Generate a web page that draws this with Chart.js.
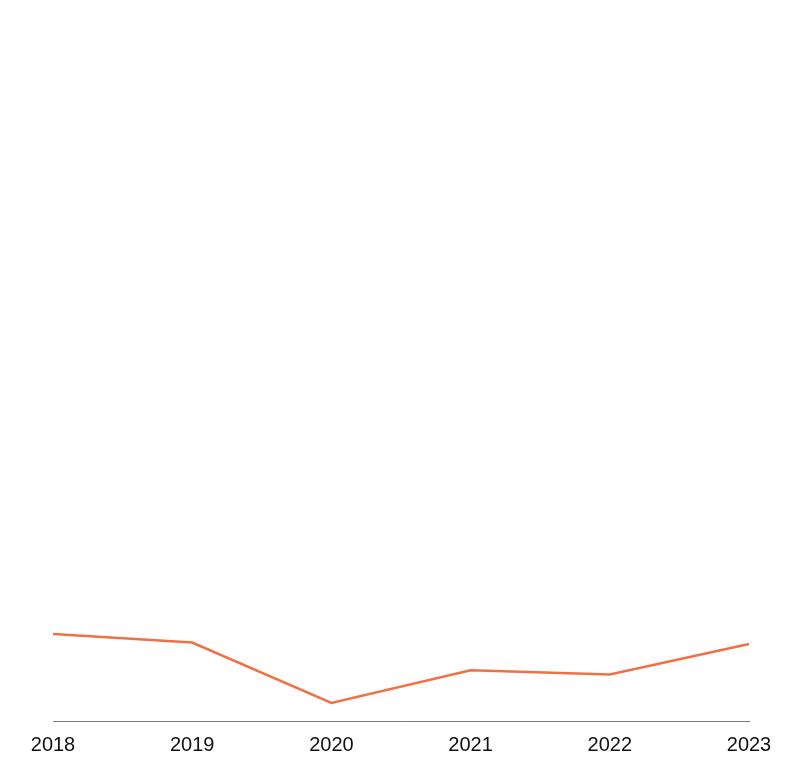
<!DOCTYPE html>
<html>
<head>
<meta charset="utf-8">
<script src="https://cdn.jsdelivr.net/npm/chart.js@4.4.1/dist/chart.umd.min.js"></script>
<style>
  html, body { margin: 0; padding: 0; background: #fff; }
  #wrap { width: 808px; height: 776px; }
</style>
</head>
<body>
<div id="wrap"><canvas id="c"></canvas></div>
<script>
// values (share, %)
var years  = ['2018', '2019', '2020', '2021', '2022', '2023'];
var values = [12.3, 11.1, 2.6, 7.2, 6.6, 10.9];
var yMin = 0;
var yMax = 100;

var LINE = '#f07145';
var AXIS = '#7a7a7a';
var TEXT = '#111111';

new Chart(document.getElementById('c'), {
  type: 'line',
  data: {
    labels: years,
    datasets: [{
      data: values,
      borderColor: LINE,
      borderWidth: 2.6,
      pointRadius: 0,
      tension: 0,
      fill: false
    }]
  },
  options: {
    responsive: true,
    maintainAspectRatio: false,
    animation: false,
    layout: { padding: { top: 10, left: 53, right: 59, bottom: 6.5 } },
    plugins: { legend: { display: false }, tooltip: { enabled: false } },
    scales: {
      x: {
        offset: false,
        grid: { display: false, drawTicks: false },
        border: { display: true, color: AXIS, width: 1 },
        ticks: {
          color: TEXT,
          padding: 12,
          maxRotation: 0,
          font: { family: 'Liberation Sans', size: 20 }
        }
      },
      y: {
        display: false,
        min: yMin,
        max: yMax
      }
    }
  }
});
</script>
</body>
</html>
